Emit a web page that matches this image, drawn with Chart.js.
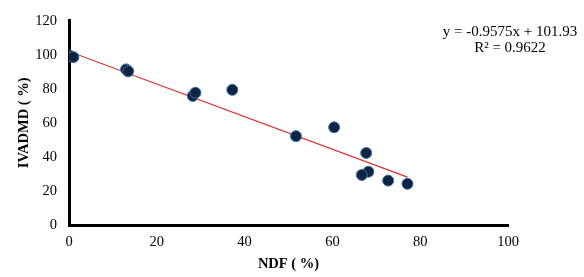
<!DOCTYPE html>
<html>
<head>
<meta charset="utf-8">
<script src="https://cdn.jsdelivr.net/npm/chart.js@4/dist/chart.umd.min.js"></script>
<style>
html,body{margin:0;padding:0;background:#fff;}
#wrap{width:584px;height:277px;position:relative;}
</style>
</head>
<body>
<div id="wrap"><canvas id="c" width="584" height="277"></canvas></div>
<script>
// Data
const ndf    = [0.3, 1.0, 13.0, 13.5, 28.2, 28.8, 37.2, 51.7, 60.4, 67.7, 68.2, 66.7, 72.7, 77.1];
const ivadmd = [99.3, 98.6, 91.4, 90.3, 75.8, 77.7, 79.4, 52.2, 57.4, 42.3, 31.3, 29.4, 26.1, 24.2];
const trendSlope = -0.9575;
const trendIntercept = 101.93;
const trendRange = [0, 77.1];
const equationText = ['y = -0.9575x + 101.93', 'R\u00B2 = 0.9622'];
const xTitle = 'NDF ( %)';
const yTitle = 'IVADMD ( %)';

const points = ndf.map((x, i) => ({x: x, y: ivadmd[i]}));
const trend = trendRange.map(x => ({x: x, y: trendSlope * x + trendIntercept}));

const serif = "'Liberation Serif', 'Times New Roman', serif";

const eqPlugin = {
  id: 'eq',
  afterDraw(chart) {
    const ctx = chart.ctx;
    ctx.save();
    ctx.fillStyle = '#000';
    ctx.font = '15px ' + serif;
    ctx.textAlign = 'center';
    ctx.textBaseline = 'middle';
    ctx.fillText(equationText[0], 510, 32);
    ctx.fillText(equationText[1], 510, 48);
    ctx.restore();
  }
};

new Chart(document.getElementById('c'), {
  type: 'scatter',
  data: {
    datasets: [
      {
        type: 'line',
        data: trend,
        borderColor: '#d9302f',
        borderWidth: 1.2,
        pointRadius: 0,
        fill: false,
        order: 2
      },
      {
        data: points,
        backgroundColor: '#0e2542',
        borderColor: '#3d6fa6',
        borderWidth: 1,
        pointRadius: 5.5,
        order: 1
      }
    ]
  },
  options: {
    responsive: false,
    animation: false,
    events: [],
    layout: {padding: {top: 17, right: 76, left: 0, bottom: 0}},
    plugins: {legend: {display: false}, tooltip: {enabled: false}},
    scales: {
      x: {
        type: 'linear',
        min: 0, max: 100,
        ticks: {stepSize: 20, color: '#000', font: {family: serif, size: 14.5}, padding: 8, maxRotation: 0},
        grid: {color: 'transparent', drawTicks: false},
        border: {color: '#000', width: 3},
        title: {display: true, text: xTitle, color: '#000', font: {family: serif, size: 14.5, weight: 'bold'}, padding: {top: 3}},
        afterFit(s) { s.height = 52; }
      },
      y: {
        min: 0, max: 120,
        ticks: {stepSize: 20, color: '#000', font: {family: serif, size: 14.5}, padding: 12},
        grid: {color: 'transparent', drawTicks: false},
        border: {color: '#000', width: 3},
        title: {display: true, text: yTitle, color: '#000', font: {family: serif, size: 14.5, weight: 'bold'}, padding: {top: 16, bottom: 0}},
        afterFit(s) { s.width = 69; }
      }
    }
  },
  plugins: [eqPlugin]
});
</script>
</body>
</html>
